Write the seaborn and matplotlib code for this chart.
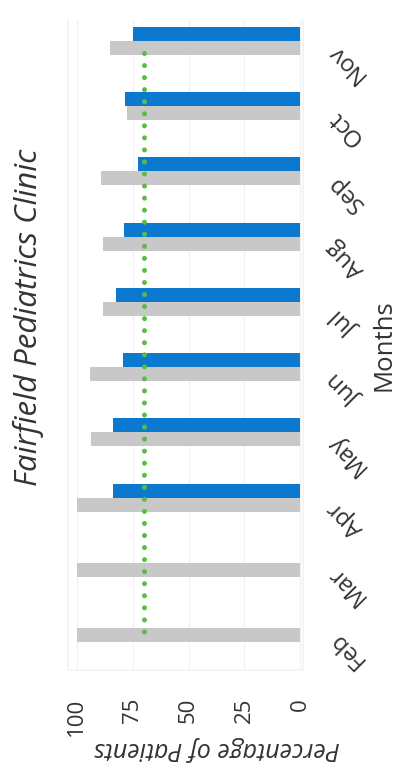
import numpy as np
import pandas as pd
import matplotlib
matplotlib.use("Agg")
import matplotlib.pyplot as plt
import seaborn as sns

# Monthly share of patients (%), listed top to bottom as drawn
months = ["Nov", "Oct", "Sep", "Aug", "Jul", "Jun", "May", "Apr", "Mar", "Feb"]
clinic = [75, 78.5, 72.5, 79, 82.5, 79.5, 84, 84, np.nan, np.nan]
comparison = [85, 77.5, 89, 88.5, 88.5, 94, 93.5, 100, 100, 100]
goal = [70] * len(months)
ticks = [100, 75, 50, 25, 0]

title = "Fairfield Pediatrics Clinic"
x_title = "Percentage of Patients"
y_title = "Months"

BLUE = "#0b79d0"
GRAY = "#c8c8c8"
GREEN = "#5cba47"
TEXT = "#333333"

sns.set_theme(style="white")
plt.rcParams["font.family"] = ["Open Sans", "DejaVu Sans"]

df = pd.DataFrame({
    "month": months * 2,
    "series": ["Clinic"] * len(months) + ["Comparison"] * len(months),
    "value": clinic + comparison,
})

fig = plt.figure(figsize=(3.96, 7.68), dpi=100)
ax = fig.add_axes([68 / 396, 1 - 670 / 768, 235 / 396, 650 / 768])

sns.barplot(data=df, x="value", y="month", hue="series", order=months,
            hue_order=["Clinic", "Comparison"],
            palette={"Clinic": BLUE, "Comparison": GRAY},
            orient="h", width=0.43, gap=0, errorbar=None,
            saturation=1, legend=False, linewidth=0, edgecolor="none", ax=ax)

# goal line, drawn as round dots through every month
pos = np.arange(len(months)) + 0.18
ax.plot(goal, pos, color=GREEN, lw=3.6, linestyle=(0, (0.01, 2.4)),
        dash_capstyle="round", zorder=5)

ax.set_xlim(104, -1.3)
ax.set_ylim(9.644, -0.322)
ax.set_xticks(ticks)
ax.set_xticklabels([str(t) for t in ticks], rotation=90, fontsize=16, color=TEXT)
ax.tick_params(axis="x", length=0, pad=20)
ax.set_yticks([])
ax.set_xlabel("")
ax.set_ylabel("")
ax.grid(axis="x", color="#f0f0f0", lw=0.8)
ax.set_axisbelow(True)
for side in ["left", "right", "bottom"]:
    ax.spines[side].set_color("#f3f3f3")
ax.spines["top"].set_visible(False)

# month names on the right, slanted upside down
for i, m in enumerate(months):
    ax.text(1.183, i + 0.33, m, transform=ax.get_yaxis_transform(),
            rotation=135, ha="center", va="center", fontsize=17, color=TEXT)

fig.text(28 / 396, 1 - 317 / 768, title, rotation=90, style="italic",
         ha="center", va="center", fontsize=22.5, color=TEXT)
fig.text(384 / 396, 1 - 345 / 768, y_title, rotation=90,
         ha="center", va="center", fontsize=18.5, color=TEXT)
fig.text(217 / 396, 1 - 748 / 768, x_title, rotation=180, style="italic",
         ha="center", va="center", fontsize=18, color=TEXT)

fig.savefig("out.png", dpi=100, facecolor="white")
